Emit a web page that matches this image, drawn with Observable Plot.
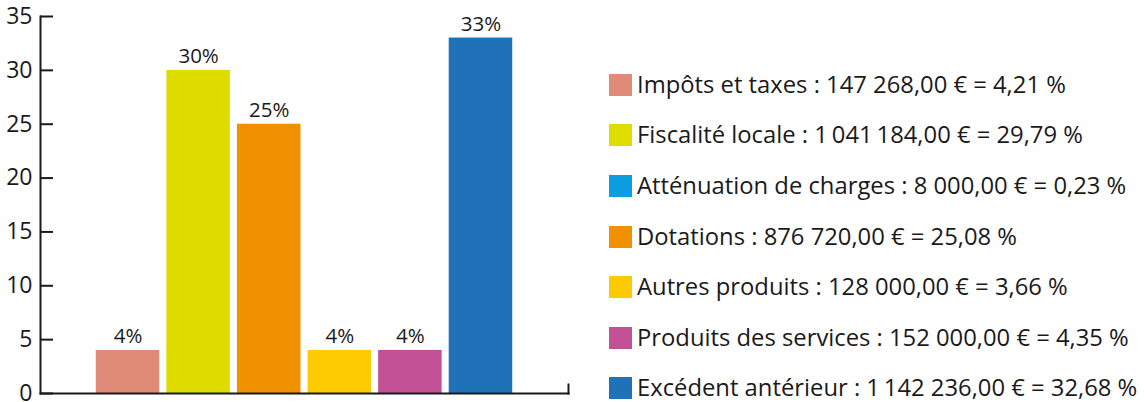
<!DOCTYPE html>
<html>
<head>
<meta charset="utf-8">
<script src="https://cdn.jsdelivr.net/npm/d3@7"></script>
<script src="https://cdn.jsdelivr.net/npm/@observablehq/plot@0.6"></script>
<style>
  html, body { margin: 0; padding: 0; background: #fff; }
  body { width: 1145px; height: 402px; position: relative; overflow: hidden; font-family: "Open Sans", sans-serif; }
  #chart { position: absolute; left: 0; top: 0; }
  #legend { position: absolute; left: 609px; top: 59.5px; color: #1a1a1a; font-size: 23.8px; line-height: 1; }
  .row { display: flex; align-items: center; height: 50.6px; white-space: nowrap; }
  .sw { width: 23px; height: 22px; margin-right: 5px; flex: none; }
</style>
</head>
<body>
<div id="chart"></div>
<div id="legend"></div>
<script>
const categories = ["Impôts et taxes", "Fiscalité locale", "Atténuation de charges", "Dotations", "Autres produits", "Produits des services", "Excédent antérieur"];
const amounts = ["147 268,00", "1\u2009041\u2009184,00", "8 000,00", "876 720,00", "128 000,00", "152 000,00", "1\u2009142 236,00"];
const percents = ["4,21", "29,79", "0,23", "25,08", "3,66", "4,35", "32,68"];
const barValues = [4, 30, 0, 25, 4, 4, 33];
const colors = ["#e08a78", "#dfdc00", "#0a9ee0", "#f29100", "#fecb00", "#c25095", "#1f72b8"];
const yTicks = [0, 5, 10, 15, 20, 25, 30, 35];

const data = categories.map((c, i) => ({category: c, value: barValues[i], color: colors[i]}));
const shown = data.filter(d => d.value > 0);

const chart = Plot.plot({
  width: 580,
  height: 402,
  marginLeft: 40,
  marginRight: 12,
  marginTop: 16,
  marginBottom: 9,
  style: {fontFamily: "Open Sans, sans-serif", color: "#1a1a1a", background: "transparent", overflow: "visible"},
  x: {domain: shown.map(d => d.category), paddingInner: 0.1, paddingOuter: 0.79, round: false, axis: null},
  y: {domain: [0, 35]},
  marks: [
    Plot.barY(shown, {x: "category", y: "value", fill: "color"}),
    Plot.text(shown, {x: "category", y: "value", text: d => d.value + "%", dy: -14, fontSize: 20.5, fill: "#1a1a1a"}),
    Plot.frame({anchor: "left", stroke: "#1a1a1a", strokeWidth: 2}),
    Plot.frame({anchor: "bottom", stroke: "#1a1a1a", strokeWidth: 2}),
    Plot.frame({anchor: "right", stroke: "#1a1a1a", strokeWidth: 2, insetTop: 368}),
    Plot.axisY({ticks: yTicks, tickSize: -13, text: null, label: null, stroke: "#1a1a1a", strokeWidth: 2}),
    Plot.axisY({ticks: yTicks, tickSize: 0, tickPadding: 8, fontSize: 23, fill: "#1a1a1a", label: null})
  ]
});
document.getElementById("chart").appendChild(chart);

const legend = document.getElementById("legend");
categories.forEach((c, i) => {
  const row = document.createElement("div");
  row.className = "row";
  const sw = document.createElement("div");
  sw.className = "sw";
  sw.style.background = colors[i];
  const t = document.createElement("span");
  t.textContent = `${c} : ${amounts[i]} € = ${percents[i]} %`;
  row.appendChild(sw);
  row.appendChild(t);
  legend.appendChild(row);
});
</script>
</body>
</html>
